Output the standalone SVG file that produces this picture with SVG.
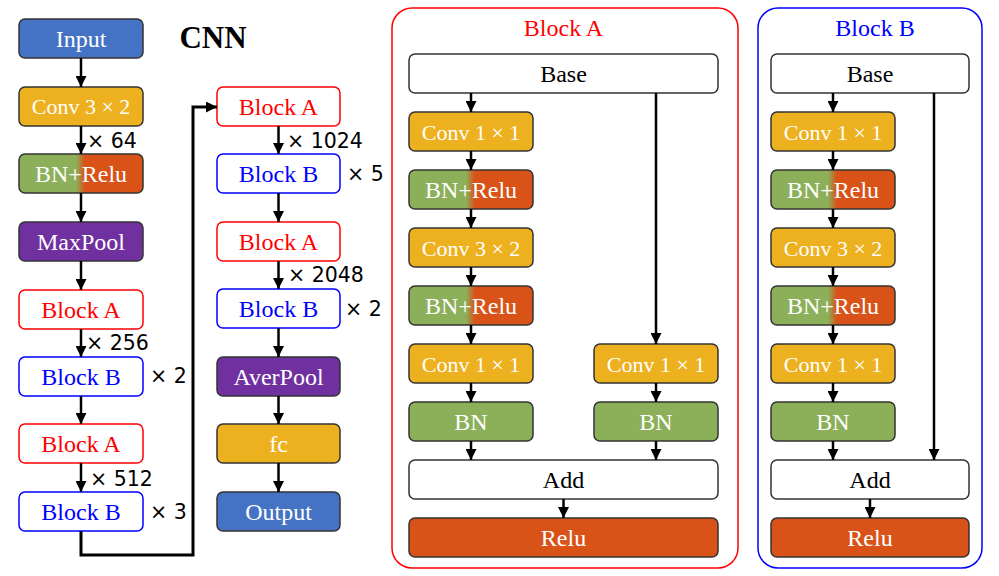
<svg xmlns="http://www.w3.org/2000/svg" width="999" height="576" viewBox="0 0 999 576">
<style>
.b{stroke:#333;stroke-width:1.5}
.blue{fill:#4472C4}.gold{fill:#EDB120}.green{fill:#8CB05A}.red{fill:#D95319}.purple{fill:#7030A0}.white{fill:#fff}
.gr{fill:url(#g)}
.ba{fill:#fff;stroke:#FF0000;stroke-width:1.5}
.bb{fill:#fff;stroke:#0000FF;stroke-width:1.5}
text{font-family:"Liberation Serif","Times New Roman",serif;font-size:24px;text-anchor:middle}
.cv{font-size:22px}
.wt{fill:#fff}.kt{fill:#000}.rt{fill:#FF0000}.bt{fill:#0000FF}
.x{font-family:"DejaVu Sans",sans-serif;font-size:20.5px;text-anchor:start;fill:#000}
.c line,.c path{stroke:#000;stroke-width:2.5;fill:none;marker-end:url(#ah)}
</style>
<defs>
<linearGradient id="g" x1="0" y1="0" x2="1" y2="0">
<stop offset="0.46" stop-color="#8CB05A"/>
<stop offset="0.53" stop-color="#D95319"/>
</linearGradient>
<marker id="ah" markerUnits="userSpaceOnUse" markerWidth="11" markerHeight="11" refX="11" refY="5.5" orient="auto">
<path d="M0,0 L11,5.5 L0,11 z" fill="#000"/>
</marker>
</defs>

<text x="213" y="48" class="kt" style="font-weight:bold;font-size:31px">CNN</text>

<!-- left column -->
<g id="input"><rect x="19" y="19" width="124" height="39" rx="6" class="b blue"/><text x="81" y="47" class="wt">Input</text></g>
<g id="conv32"><rect x="19" y="87" width="124" height="39" rx="6" class="b gold"/><text x="81" y="114" class="wt cv">Conv 3 × 2</text></g>
<g id="bnrelu"><rect x="19" y="154" width="124" height="39" rx="6" class="b gr"/><text x="81" y="182" class="wt">BN+Relu</text></g>
<g id="maxpool"><rect x="19" y="222" width="124" height="39" rx="6" class="b purple"/><text x="81" y="250" class="wt">MaxPool</text></g>
<g id="blockA1"><rect x="19" y="290" width="124" height="39" rx="6" class="ba"/><text x="81" y="318" class="rt">Block A</text></g>
<g id="blockB1"><rect x="19" y="357" width="124" height="39" rx="6" class="bb"/><text x="81" y="385" class="bt">Block B</text></g>
<g id="blockA2"><rect x="19" y="424" width="124" height="39" rx="6" class="ba"/><text x="81" y="452" class="rt">Block A</text></g>
<g id="blockB2"><rect x="19" y="492" width="124" height="39" rx="6" class="bb"/><text x="81" y="520" class="bt">Block B</text></g>

<!-- middle column -->
<g id="blockA3"><rect x="217" y="87" width="123" height="39" rx="6" class="ba"/><text x="278.5" y="115" class="rt">Block A</text></g>
<g id="blockB3"><rect x="217" y="154" width="123" height="39" rx="6" class="bb"/><text x="278.5" y="182" class="bt">Block B</text></g>
<g id="blockA4"><rect x="217" y="222" width="123" height="39" rx="6" class="ba"/><text x="278.5" y="250" class="rt">Block A</text></g>
<g id="blockB4"><rect x="217" y="289" width="123" height="39" rx="6" class="bb"/><text x="278.5" y="317" class="bt">Block B</text></g>
<g id="averpool"><rect x="217" y="357" width="123" height="39" rx="6" class="b purple"/><text x="278.5" y="385" class="wt">AverPool</text></g>
<g id="fc"><rect x="217" y="424" width="123" height="39" rx="6" class="b gold"/><text x="278.5" y="452" class="wt">fc</text></g>
<g id="output"><rect x="217" y="492" width="123" height="39" rx="6" class="b blue"/><text x="278.5" y="520" class="wt">Output</text></g>

<g id="labels">
<text x="87" y="148" class="x">× 64</text>
<text x="86" y="350" class="x">× 256</text>
<text x="150" y="383" class="x">× 2</text>
<text x="90" y="486" class="x">× 512</text>
<text x="150" y="519" class="x">× 3</text>
<text x="287" y="148" class="x">× 1024</text>
<text x="347" y="181" class="x">× 5</text>
<text x="288" y="282" class="x">× 2048</text>
<text x="345" y="316" class="x">× 2</text>
</g>

<!-- Block A detail -->
<g id="blockA-detail">
<rect x="392" y="8" width="346" height="560" rx="20" fill="none" stroke="#FF0000" stroke-width="1.5"/>
<text x="563.5" y="36" class="rt">Block A</text>
</g>
<g id="a-base"><rect x="409" y="54" width="309" height="39" rx="6" class="b white"/><text x="563.5" y="82" class="kt">Base</text></g>
<g id="a-conv11a"><rect x="409" y="112" width="124" height="39" rx="6" class="b gold"/><text x="471" y="140" class="wt cv">Conv 1 × 1</text></g>
<g id="a-bnrelu1"><rect x="409" y="170" width="124" height="39" rx="6" class="b gr"/><text x="471" y="198" class="wt">BN+Relu</text></g>
<g id="a-conv32"><rect x="409" y="228" width="124" height="39" rx="6" class="b gold"/><text x="471" y="256" class="wt cv">Conv 3 × 2</text></g>
<g id="a-bnrelu2"><rect x="409" y="286" width="124" height="39" rx="6" class="b gr"/><text x="471" y="314" class="wt">BN+Relu</text></g>
<g id="a-conv11b"><rect x="409" y="344" width="124" height="39" rx="6" class="b gold"/><text x="471" y="372" class="wt cv">Conv 1 × 1</text></g>
<g id="a-bn"><rect x="409" y="402" width="124" height="39" rx="6" class="b green"/><text x="471" y="430" class="wt">BN</text></g>
<g id="a-conv11r"><rect x="594" y="344" width="124" height="39" rx="6" class="b gold"/><text x="656" y="372" class="wt cv">Conv 1 × 1</text></g>
<g id="a-bnr"><rect x="594" y="402" width="124" height="39" rx="6" class="b green"/><text x="656" y="430" class="wt">BN</text></g>
<g id="a-add"><rect x="409" y="460" width="309" height="39" rx="6" class="b white"/><text x="563.5" y="488" class="kt">Add</text></g>
<g id="a-relu"><rect x="409" y="518" width="309" height="39" rx="6" class="b red"/><text x="563.5" y="546" class="wt">Relu</text></g>

<!-- Block B detail -->
<g id="blockB-detail">
<rect x="758" y="8" width="224" height="560" rx="20" fill="none" stroke="#0000FF" stroke-width="1.5"/>
<text x="875" y="36" class="bt">Block B</text>
</g>
<g id="b-base"><rect x="771" y="54" width="198" height="39" rx="6" class="b white"/><text x="870" y="82" class="kt">Base</text></g>
<g id="b-conv11a"><rect x="771" y="112" width="124" height="39" rx="6" class="b gold"/><text x="833" y="140" class="wt cv">Conv 1 × 1</text></g>
<g id="b-bnrelu1"><rect x="771" y="170" width="124" height="39" rx="6" class="b gr"/><text x="833" y="198" class="wt">BN+Relu</text></g>
<g id="b-conv32"><rect x="771" y="228" width="124" height="39" rx="6" class="b gold"/><text x="833" y="256" class="wt cv">Conv 3 × 2</text></g>
<g id="b-bnrelu2"><rect x="771" y="286" width="124" height="39" rx="6" class="b gr"/><text x="833" y="314" class="wt">BN+Relu</text></g>
<g id="b-conv11b"><rect x="771" y="344" width="124" height="39" rx="6" class="b gold"/><text x="833" y="372" class="wt cv">Conv 1 × 1</text></g>
<g id="b-bn"><rect x="771" y="402" width="124" height="39" rx="6" class="b green"/><text x="833" y="430" class="wt">BN</text></g>
<g id="b-add"><rect x="771" y="460" width="198" height="39" rx="6" class="b white"/><text x="870" y="488" class="kt">Add</text></g>
<g id="b-relu"><rect x="771" y="518" width="198" height="39" rx="6" class="b red"/><text x="870" y="546" class="wt">Relu</text></g>

<g id="connectors" class="c">
<line x1="81" y1="58" x2="81" y2="87"/>
<line x1="81" y1="126" x2="81" y2="154"/>
<line x1="81" y1="193" x2="81" y2="222"/>
<line x1="81" y1="261" x2="81" y2="290"/>
<line x1="81" y1="329" x2="81" y2="357"/>
<line x1="81" y1="396" x2="81" y2="424"/>
<line x1="81" y1="463" x2="81" y2="492"/>
<path d="M81,531 V555 H193 V107 H217" style="stroke-width:3"/>
<line x1="278.5" y1="126" x2="278.5" y2="154"/>
<line x1="278.5" y1="193" x2="278.5" y2="222"/>
<line x1="278.5" y1="261" x2="278.5" y2="289"/>
<line x1="278.5" y1="328" x2="278.5" y2="357"/>
<line x1="278.5" y1="396" x2="278.5" y2="424"/>
<line x1="278.5" y1="463" x2="278.5" y2="492"/>

<line x1="471" y1="93" x2="471" y2="112"/>
<line x1="471" y1="151" x2="471" y2="170"/>
<line x1="471" y1="209" x2="471" y2="228"/>
<line x1="471" y1="267" x2="471" y2="286"/>
<line x1="471" y1="325" x2="471" y2="344"/>
<line x1="471" y1="383" x2="471" y2="402"/>
<line x1="471" y1="441" x2="471" y2="460"/>
<line x1="656" y1="93" x2="656" y2="344"/>
<line x1="656" y1="383" x2="656" y2="402"/>
<line x1="656" y1="441" x2="656" y2="460"/>
<line x1="563.5" y1="499" x2="563.5" y2="518"/>

<line x1="833" y1="93" x2="833" y2="112"/>
<line x1="833" y1="151" x2="833" y2="170"/>
<line x1="833" y1="209" x2="833" y2="228"/>
<line x1="833" y1="267" x2="833" y2="286"/>
<line x1="833" y1="325" x2="833" y2="344"/>
<line x1="833" y1="383" x2="833" y2="402"/>
<line x1="833" y1="441" x2="833" y2="460"/>
<line x1="934" y1="93" x2="934" y2="460"/>
<line x1="870" y1="499" x2="870" y2="518"/>
</g>
</svg>
